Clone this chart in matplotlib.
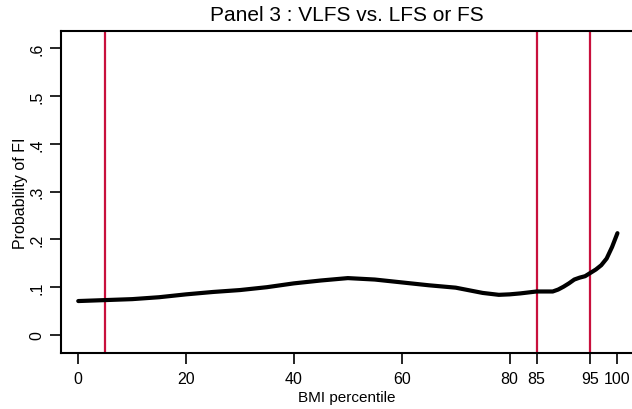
import matplotlib
matplotlib.use("Agg")
import matplotlib.pyplot as plt

plt.rcParams['font.family'] = ['Liberation Sans', 'DejaVu Sans']

title = "Panel 3 : VLFS vs. LFS or FS"
x_label = "BMI percentile"
y_label = "Probability of FI"

bmi_pct = [0, 5, 10, 15, 20, 25, 30, 35, 40, 45, 50, 55, 60, 65, 70, 75, 78, 80,
           82, 85, 88, 89, 90, 91, 92, 93, 94, 95, 96, 97, 98, 99, 100]
prob_fi = [0.071, 0.073, 0.075, 0.079, 0.085, 0.090, 0.094, 0.100, 0.108, 0.114,
           0.119, 0.116, 0.110, 0.104, 0.099, 0.088, 0.084, 0.085, 0.087, 0.091,
           0.091, 0.095, 0.101, 0.108, 0.116, 0.120, 0.123, 0.130, 0.137, 0.146,
           0.160, 0.184, 0.213]

cutoffs = [5, 85, 95]
x_ticks = [0, 20, 40, 60, 80, 85, 95, 100]
y_ticks = [0, 0.1, 0.2, 0.3, 0.4, 0.5, 0.6]
y_tick_labels = ["0", ".1", ".2", ".3", ".4", ".5", ".6"]

fig = plt.figure(figsize=(6.32, 4.10), dpi=100)
ax = fig.add_axes([61/632, 1-354/410, 1-61/632, (354-32)/410])

ax.plot(bmi_pct, prob_fi, color='black', lw=3.0, solid_capstyle='round', zorder=3)
for c in cutoffs:
    ax.axvline(c, color='#C8103C', lw=1.6, zorder=2)

ax.set_xlim(-3.2, 102.7)
ax.set_ylim(-0.0377, 0.636)
ax.set_xticks(x_ticks)
ax.set_xticklabels([str(t) for t in x_ticks], fontsize=11.5)
ax.set_yticks(y_ticks)
ax.set_yticklabels(y_tick_labels, fontsize=11.5, rotation=90, va='center')
ax.tick_params(direction='out', length=8, width=1.2, colors='black')
ax.tick_params(axis='x', pad=5)
ax.tick_params(axis='y', pad=4)

ax.spines['right'].set_visible(False)
for s in ['left', 'top', 'bottom']:
    ax.spines[s].set_linewidth(1.5)

ax.set_title(title, fontsize=15, pad=8)
fig.text(346.5/632, 1-398/410, x_label, fontsize=11, ha='center', va='center')
ax.set_ylabel(y_label, fontsize=11.5, labelpad=1)

fig.savefig("out.png", dpi=100)
